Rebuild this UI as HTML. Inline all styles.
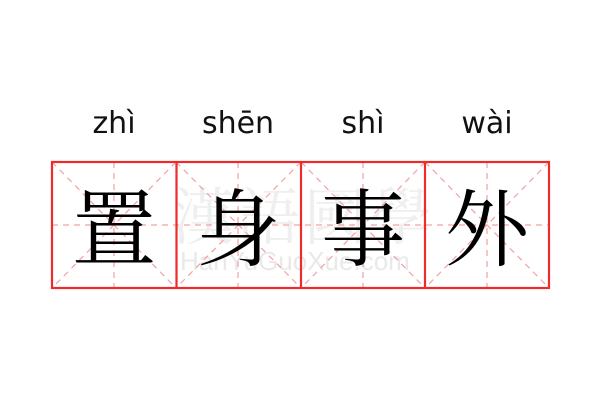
<!DOCTYPE html>
<html><head><meta charset="utf-8"><style>
body{margin:0;width:600px;height:400px;background:#fff;overflow:hidden;position:relative}
.py{position:absolute;top:106px;width:124px;text-align:center;font:30px "DejaVu Sans","Liberation Sans",sans-serif;color:#111}
.ch{position:absolute;top:163px;width:124px;height:124px;text-align:center;line-height:124px;font:84px "Noto Serif CJK SC","Noto Sans CJK SC",serif;color:#000}
.wm{position:absolute;font-family:"Noto Serif CJK SC",serif;color:#efefef}
</style></head><body>
<div class="wm" style="left:172px;top:168px;font-size:62px;letter-spacing:4px">漢語國學</div>
<div class="wm" style="left:180px;top:246px;font:26px 'Liberation Sans',sans-serif;color:#e9e9e9">HanYuGuoXue.com</div>
<svg width="600" height="400" style="position:absolute;left:0;top:0">
<g stroke="#f4a0a0" stroke-width="1.2" stroke-dasharray="6,5" fill="none">
<line x1="52" y1="225" x2="549" y2="225"/>
<line x1="114" y1="162" x2="114" y2="288"/><line x1="238" y1="162" x2="238" y2="288"/>
<line x1="363" y1="162" x2="363" y2="288"/><line x1="487" y1="162" x2="487" y2="288"/>
<line x1="52" y1="162" x2="176" y2="288"/><line x1="176" y1="162" x2="52" y2="288"/>
<line x1="176" y1="162" x2="301" y2="288"/><line x1="301" y1="162" x2="176" y2="288"/>
<line x1="301" y1="162" x2="425" y2="288"/><line x1="425" y1="162" x2="301" y2="288"/>
<line x1="425" y1="162" x2="549" y2="288"/><line x1="549" y1="162" x2="425" y2="288"/>
</g>
<g stroke="#ee2a2a" stroke-width="2.2" fill="none">
<rect x="52" y="162" width="497" height="126"/>
<line x1="176.5" y1="162" x2="176.5" y2="288"/><line x1="301" y1="162" x2="301" y2="288"/><line x1="425" y1="162" x2="425" y2="288"/>
</g></svg>
<div class="py" style="left:52px">zhì</div><div class="py" style="left:176px">shēn</div>
<div class="py" style="left:301px">shì</div><div class="py" style="left:425px">wài</div>
<div class="ch" style="left:52px">置</div><div class="ch" style="left:176px">身</div>
<div class="ch" style="left:301px">事</div><div class="ch" style="left:425px">外</div>
</body></html>
